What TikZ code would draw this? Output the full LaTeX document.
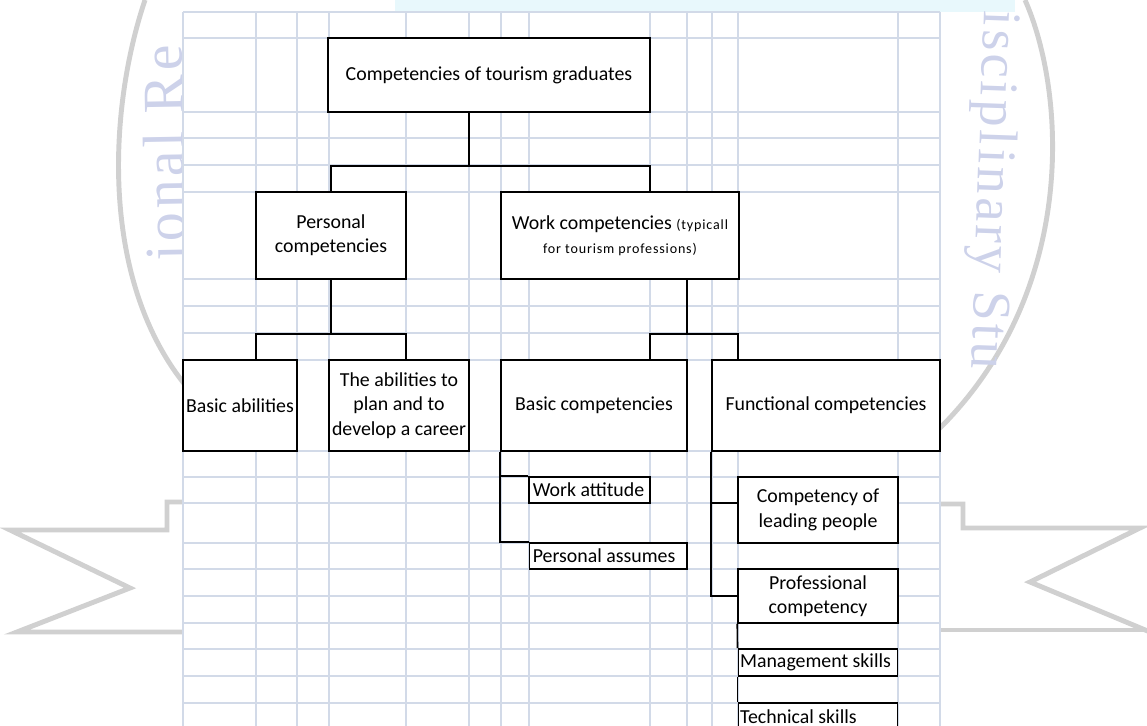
\documentclass[tikz,border=0pt]{standalone}
\usepackage{fontspec}
\setmainfont{Carlito}
\newfontfamily\notefont[LetterSpace=6]{Carlito}
\newfontfamily\sealfont[LetterSpace=6]{Liberation Serif}
\usetikzlibrary{calc}

\definecolor{gridblue}{RGB}{210,218,232}
\definecolor{sealgray}{RGB}{208,208,208}
\definecolor{sealink}{RGB}{205,210,234}
\definecolor{sealcyan}{RGB}{232,248,252}

\begin{document}
\begin{tikzpicture}[x=0.02cm, y=-0.02cm,
  box/.style={rectangle, draw, fill=white, line width=0.9pt,
              inner xsep=1pt, inner ysep=0pt, align=center,
              font=\fontsize{11.3}{13.8}\selectfont},
  lbox/.style={box, inner xsep=2pt, align=flush left},
  link/.style={line width=0.9pt},
  seal/.style={draw=sealgray, line width=2.8pt},
  sealword/.style={text=sealink, font=\sealfont\fontsize{33}{33}\selectfont,
                   anchor=base, inner sep=0pt}
]
\clip (0,0) rectangle (1147,726);

%% --- watermark behind the sheet ---
\fill[sealcyan] (395,0) rectangle (1015,12);
\draw[seal] (145,0) .. controls (108,110) and (100,280) .. (186,386);
\draw[seal] (1025,0) .. controls (1065,90) and (1080,290) .. (938,430);
\draw[seal] (190,502) -- (167,502) -- (167,530) -- (10,530) -- (130,588)
    -- (17,632) -- (190,632);
\draw[seal] (935,504) -- (963,504) -- (963,528) -- (1140,528) -- (1030,582)
    -- (1150,632);
\draw[seal] (935,630) -- (1150,630);
\node[sealword, rotate=91] (sealL) at (184,153) {ional Re};
\node[sealword, rotate=-92, font=\sealfont\fontsize{31}{31}\selectfont]
    (sealR) at (978,190) {isciplinary Stu};

%% --- sheet grid ---
\fill[white] (183,12) rectangle (940,726);
\foreach \gx in {183,256,297,329,406,469,501,529,650,687,712,738,898,940}
  \draw[gridblue, line width=0.8pt] (\gx,12) -- (\gx,726);
\foreach \gy in {12,38,112,138,165,192,279,306,333,360,451,477,503,543,569,596,623,649,676,703}
  \draw[gridblue, line width=0.8pt] (183,\gy) -- (940,\gy);

%% --- boxes ---
\node[box, minimum width=6.44cm, minimum height=1.48cm] (top) at (489,75)
    {Competencies of tourism graduates};
\node[box, minimum width=3cm, minimum height=1.74cm] (pers) at (331,235.5)
    {Personal\\competencies};
\node[box, minimum width=4.76cm, minimum height=1.74cm] (work) at (620,235.5)
    {Work competencies {\notefont\fontsize{8}{10}\selectfont (typicall}\\
     {\notefont\fontsize{8}{10}\selectfont for tourism professions)}};
\node[box, minimum width=2.28cm, minimum height=1.82cm] (basab) at (240,405.5)
    {Basic abilities};
\node[box, minimum width=2.8cm, minimum height=1.82cm] (plan) at (399,405.5)
    {The abilities to\\plan and to\\develop a career};
\node[box, minimum width=3.72cm, minimum height=1.82cm] (basc) at (594,405.5)
    {Basic competencies};
\node[box, minimum width=4.56cm, minimum height=1.82cm] (func) at (826,405.5)
    {Functional competencies};
\node[lbox, text width=64.6pt, minimum height=0.52cm] (att) at (589.5,490)
    {Work attitude};
\node[lbox, text width=85.6pt, minimum height=0.52cm] (assum) at (608,556)
    {Personal assumes};
\node[box, minimum width=3.2cm, minimum height=1.32cm] (lead) at (818,510)
    {Competency of\\leading people};
\node[box, minimum width=3.2cm, minimum height=1.08cm] (prof) at (818,596)
    {Professional\\competency};
\node[lbox, inner xsep=1pt, text width=88.7pt, minimum height=0.54cm] (mgmt)
    at (818,662.5) {Management skills};
\node[lbox, inner xsep=1pt, text width=88.7pt, minimum height=0.54cm] (tech)
    at (818,716.5) {Technical skills};

%% --- connectors ---
\draw[link] ($(top.south)+(-20,0)$) -- ++(0,53) coordinate (j1);
\draw[link] (pers.north) |- (j1) -| ($(work.north)+(30,0)$);

\draw[link] (pers.south) -- ++(0,54) coordinate (j2);
\draw[link] ($(basab.north)+(16,0)$) |- (j2) -| ($(plan.north)+(7,0)$);

\draw[link] ($(work.south)+(67,0)$) -- ++(0,54) coordinate (j3);
\draw[link] ($(basc.north)+(56,0)$) |- (j3) -| ($(func.north)+(-88,0)$);

\draw[link] (basc.south west) |- (att.north west);
\draw[link] (basc.south west) |- (assum.north west);

\draw[link] (func.south west) |- ($(lead.west)+(0,-7)$);
\draw[link] (func.south west) |- (prof.west);

\draw[link] (prof.south west) -- (mgmt.north west);
\draw[link] (mgmt.south west) -- (tech.north west);

\end{tikzpicture}
\end{document}
